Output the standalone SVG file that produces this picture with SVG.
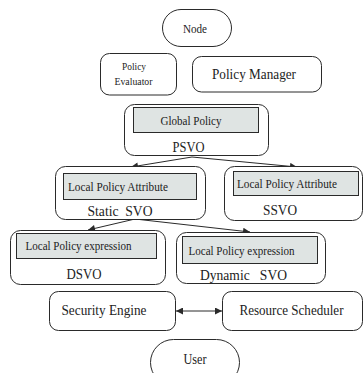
<svg xmlns="http://www.w3.org/2000/svg" width="364" height="373" viewBox="0 0 364 373">
<style>
.box{fill:#fff;stroke:#2a2a2a;stroke-width:1}
.gray{fill:#dfe4e3;stroke:#2a2a2a;stroke-width:1}
text{font-family:'Liberation Serif','DejaVu Serif',serif;fill:#222;text-anchor:middle}
.c{stroke:#2a2a2a;stroke-width:1;fill:none}
</style>
<defs>
<marker id="ah" viewBox="0 0 10 10" refX="10" refY="5" markerWidth="8" markerHeight="7" markerUnits="userSpaceOnUse" orient="auto-start-reverse">
<path d="M0,0 L10,5 L0,10 Z" fill="#2a2a2a"/>
</marker>
</defs>
<rect width="364" height="373" fill="#fff"/>
<g id="connectors">
<line class="c" x1="192" y1="157" x2="131" y2="167" marker-end="url(#ah)"/>
<line class="c" x1="192" y1="157" x2="297" y2="167" marker-end="url(#ah)"/>
<line class="c" x1="135" y1="219" x2="88" y2="230" marker-end="url(#ah)"/>
<line class="c" x1="135" y1="219" x2="250" y2="232" marker-end="url(#ah)"/>
<line class="c" x1="176" y1="311" x2="222" y2="311" marker-start="url(#ah)" marker-end="url(#ah)"/>
</g>
<g id="node">
<rect class="box" x="162.5" y="9.5" width="69" height="37" rx="18.5"/>
<text x="195" y="33" font-size="12" textLength="24" lengthAdjust="spacingAndGlyphs">Node</text>
</g>
<g id="policy-evaluator">
<rect class="box" x="100.5" y="53.5" width="76" height="41.5" rx="9"/>
<text x="134" y="70" font-size="10.5" textLength="24" lengthAdjust="spacingAndGlyphs">Policy</text>
<text x="133.5" y="85" font-size="10.5" textLength="38" lengthAdjust="spacingAndGlyphs">Evaluator</text>
</g>
<g id="policy-manager">
<rect class="box" x="192.5" y="56.5" width="129" height="35.5" rx="9"/>
<text x="254" y="79" font-size="15" textLength="84" lengthAdjust="spacingAndGlyphs">Policy Manager</text>
</g>
<g id="psvo">
<rect class="box" x="124.5" y="104.5" width="144" height="51" rx="10"/>
<rect class="gray" x="133.5" y="107.5" width="125" height="25"/>
<text x="191" y="124.5" font-size="12" textLength="61" lengthAdjust="spacingAndGlyphs">Global Policy</text>
<text x="188.5" y="151.5" font-size="15" textLength="32" lengthAdjust="spacingAndGlyphs">PSVO</text>
</g>
<g id="static-svo">
<rect class="box" x="55.5" y="166.5" width="150" height="53" rx="10"/>
<rect class="gray" x="63.5" y="173.5" width="133" height="26"/>
<text x="118" y="190.5" font-size="12" textLength="100" lengthAdjust="spacingAndGlyphs">Local Policy Attribute</text>
<text x="120" y="216" font-size="14.5" textLength="65" lengthAdjust="spacingAndGlyphs" xml:space="preserve">Static  SVO</text>
</g>
<g id="ssvo">
<rect class="box" x="224.5" y="166.5" width="138" height="54" rx="10"/>
<rect class="gray" x="233.5" y="171.5" width="125" height="24"/>
<text x="287" y="187.5" font-size="12" textLength="100" lengthAdjust="spacingAndGlyphs">Local Policy Attribute</text>
<text x="280" y="215" font-size="14.5" textLength="34" lengthAdjust="spacingAndGlyphs">SSVO</text>
</g>
<g id="dsvo">
<rect class="box" x="10.5" y="230.5" width="155" height="54" rx="10"/>
<rect class="gray" x="16.5" y="233.5" width="140" height="25"/>
<text x="78.5" y="250" font-size="12" textLength="106" lengthAdjust="spacingAndGlyphs">Local Policy expression</text>
<text x="84" y="278.5" font-size="14.5" textLength="35" lengthAdjust="spacingAndGlyphs">DSVO</text>
</g>
<g id="dynamic-svo">
<rect class="box" x="176.5" y="232.5" width="149" height="51" rx="10"/>
<rect class="gray" x="182.5" y="236.5" width="135" height="27"/>
<text x="241.5" y="254.5" font-size="12" textLength="106" lengthAdjust="spacingAndGlyphs">Local Policy expression</text>
<text x="243.5" y="279.5" font-size="14.5" textLength="87" lengthAdjust="spacingAndGlyphs" xml:space="preserve">Dynamic   SVO</text>
</g>
<g id="security-engine">
<rect class="box" x="49.5" y="291.5" width="126" height="39" rx="9"/>
<text x="104" y="314.5" font-size="14" textLength="85" lengthAdjust="spacingAndGlyphs">Security Engine</text>
</g>
<g id="resource-scheduler">
<rect class="box" x="222.5" y="291.5" width="140" height="39" rx="9"/>
<text x="291.5" y="314.5" font-size="14" textLength="104" lengthAdjust="spacingAndGlyphs">Resource Scheduler</text>
</g>
<g id="user">
<rect class="box" x="150.5" y="339.5" width="89" height="46" rx="23"/>
<text x="195" y="364" font-size="14" textLength="23" lengthAdjust="spacingAndGlyphs">User</text>
</g>
</svg>
